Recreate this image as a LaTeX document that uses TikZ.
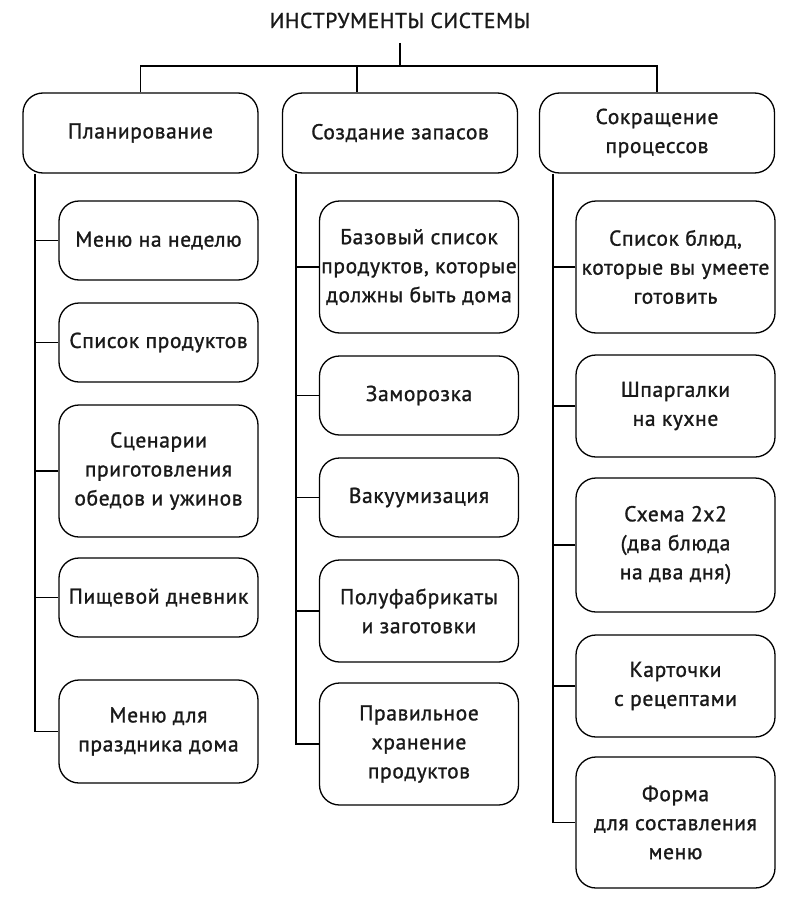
\documentclass[tikz,border=0pt]{standalone}
\usepackage{fontspec}
\setmainfont{PT Sans}
\newfontface\boxfont{PT Sans}[FakeBold=1.2,LetterSpace=3]
\begin{document}
\begin{tikzpicture}[x=1pt,y=-1pt,line width=1.3pt,
    box/.style={draw,rounded corners=20pt,align=center,inner sep=0pt,
      font=\boxfont\fontsize{21.5}{29}\selectfont,text=black!90},
    head/.style={box,minimum width=235pt,minimum height=80pt},
    item/.style={box,minimum width=199pt}]
    \useasboundingbox (0,0) rectangle (800,910);
    \node[anchor=base,inner ysep=14pt,font=\boxfont\fontsize{21.5}{25}\selectfont,text=black!90] (title) at (400,28) {ИНСТРУМЕНТЫ СИСТЕМЫ};
    \coordinate (bar) at (400,66);
    \coordinate (mid) at (357,66);
    \coordinate (lt) at (35,0);
    \coordinate (mt) at (296,0);
    \coordinate (rt) at (553,0);
    % heads
    \node[head] (plan) at (140.5,133) {Планирование};
    \node[head] (stock) at (400,133) {Создание запасов};
    \node[head] (proc) at (657,133) {Сокращение\\процессов};
    % left column
    \node[item,minimum height=79pt] (p1) at (158.5,240.5) {Меню на неделю};
    \node[item,minimum height=79pt] (p2) at (158.5,342.5) {Список продуктов};
    \node[item,minimum height=132pt] (p3) at (158.5,471) {Сценарии\\приготовления\\обедов и ужинов};
    \node[item,minimum height=79pt] (p4) at (158.5,597.5) {Пищевой дневник};
    \node[item,minimum height=103pt] (p5) at (158.5,731.5) {Меню для\\праздника дома};
    % middle column
    \node[item,minimum height=132pt] (m1) at (419,267) {Базовый список\\продуктов, которые\\должны быть дома};
    \node[item,minimum height=79pt] (m2) at (419,395.5) {Заморозка};
    \node[item,minimum height=79pt] (m3) at (419,497.5) {Вакуумизация};
    \node[item,minimum height=102pt] (m4) at (419,611) {Полуфабрикаты\\и заготовки};
    \node[item,minimum height=122pt] (m5) at (419,744) {Правильное\\хранение\\продуктов};
    % right column
    \node[item,minimum height=132pt] (r1) at (675.5,267) {Список блюд,\\которые вы умеете\\готовить};
    \node[item,minimum height=102pt] (r2) at (675.5,406) {Шпаргалки\\на кухне};
    \node[item,minimum height=134pt] (r3) at (675.5,545) {Схема 2х2\\(два блюда\\на два дня)};
    \node[item,minimum height=102pt] (r4) at (675.5,686) {Карточки\\с рецептами};
    \node[item,minimum height=131pt] (r5) at (675.5,822.5) {Форма\\для составления\\меню};
    % connectors
    \draw (title.south) -- (bar);
    \draw (plan.north) |- (bar) -| (proc.north);
    \draw (mid) -- (mid |- stock.north);
    \draw (plan.south -| lt) |- (p5.west);
    \draw (stock.south -| mt) |- (m5.west);
    \draw (proc.south -| rt) |- (r5.west);
    \foreach \n in {p1,p2,p3,p4} \draw (\n.west) -- (\n.west -| lt);
    \foreach \n in {m1,m2,m3,m4} \draw (\n.west) -- (\n.west -| mt);
    \foreach \n in {r1,r2,r3,r4} \draw (\n.west) -- (\n.west -| rt);
\end{tikzpicture}
\end{document}
